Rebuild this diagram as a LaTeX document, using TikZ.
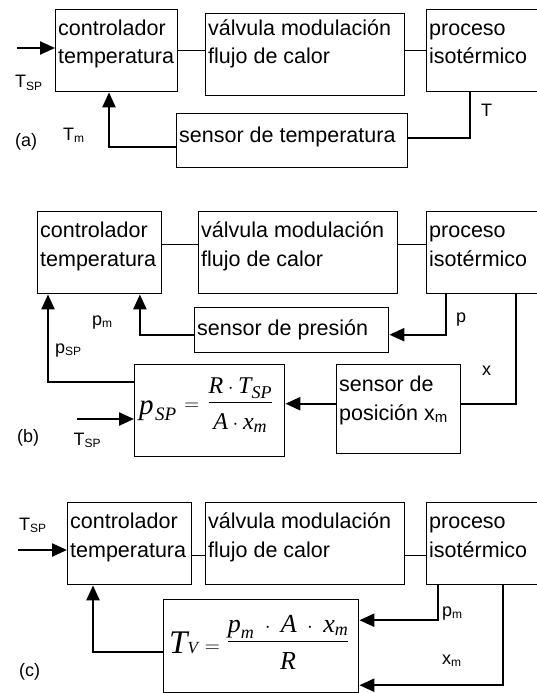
\documentclass[tikz,border=0pt]{standalone}
\usepackage{amsmath}
\usepackage{fontspec}
\setmainfont{Liberation Sans}
\newfontfamily\eqfont{Liberation Serif}
\usetikzlibrary{arrows.meta}
\newcommand{\eqv}[2][24]{\mbox{\fontsize{#1}{#1}\eqfont\itshape #2}}
\newcommand{\subi}[2][12]{\raisebox{-2pt}{\fontsize{#1}{#1}\selectfont #2}}
\newcommand{\dos}[2]{\begin{tabular}[t]{@{}l@{}}#1\\#2\end{tabular}}
\begin{document}
\begin{tikzpicture}[x=1pt,y=-1pt, every node/.style={font=\fontsize{18}{21}\selectfont},
  caja/.style={draw,line width=1.4pt,anchor=north west,inner sep=0pt},
  texto/.style={anchor=base west,inner sep=0pt,xshift=3pt,yshift=-26.6pt,
    font=\fontsize{21.5}{28.4}\selectfont},
  etiq/.style={anchor=base west,inner sep=0pt},
  formula/.style={anchor=base west,inner sep=0pt,font=\fontsize{22}{26}\selectfont},
  linea/.style={line width=1.4pt},
  retro/.style={line width=2.4pt},
  flecha/.style={line width=2.4pt,-{Triangle[length=15pt,width=13pt]}}]
\useasboundingbox (0,0) rectangle (536,693);
\node[caja,minimum width=122pt,minimum height=82pt] (ctrlA) at (55,9) {};
\node[caja,minimum width=199pt,minimum height=82pt] (valvA) at (205,13) {};
\node[caja,minimum width=120pt,minimum height=82pt] (procA) at (426,9) {};
\node[caja,minimum width=231pt,minimum height=54pt] (sensA) at (176,113) {};
\node[texto] (tctrlA) at (ctrlA.north west) {\dos{controlador}{temperatura}};
\node[texto,yshift=4pt] (tvalvA) at (valvA.north west) {\dos{válvula modulación}{flujo de calor}};
\node[texto] (tprocA) at (procA.north west) {\dos{proceso}{isotérmico}};
\node[texto,yshift=-3pt] (tsensA) at (sensA.north west) {sensor de temperatura};
\draw[linea] (ctrlA.east) -- (ctrlA.east -| valvA.west);
\draw[linea] (valvA.east |- procA.west) -- (procA.west);
\coordinate (inA) at (17,48);
\draw[flecha] (inA) -- (inA -| ctrlA.west);
\draw[retro] ([xshift=44pt]procA.south west) |- ([yshift=2.5pt]sensA.east);
\draw[flecha] ([yshift=-6pt]sensA.west) -| ([xshift=54pt]ctrlA.south west);
\node[etiq] (tspA) at (15,88) {T\subi{SP}};
\node[etiq] (tmA) at (63,140) {T\subi{m}};
\node[etiq] (labA) at (15,146) {(a)};
\node[etiq] (tA) at (481,116) {T};
\node[caja,minimum width=124pt,minimum height=82pt] (ctrlB) at (37,211) {};
\node[caja,minimum width=199pt,minimum height=82pt] (valvB) at (198,211) {};
\node[caja,minimum width=120pt,minimum height=82pt] (procB) at (426,211) {};
\node[caja,minimum width=194pt,minimum height=45pt] (sensP) at (194,307) {};
\node[caja,minimum width=150pt,minimum height=92pt] (formB) at (134,364) {};
\node[caja,minimum width=124pt,minimum height=89pt] (sensX) at (336,364) {};
\node[texto] (tctrlB) at (ctrlB.north west) {\dos{controlador}{temperatura}};
\node[texto] (tvalvB) at (valvB.north west) {\dos{válvula modulación}{flujo de calor}};
\node[texto] (tprocB) at (procB.north west) {\dos{proceso}{isotérmico}};
\node[texto,yshift=-2pt] (tsensP) at (sensP.north west) {sensor de presión};
\node[texto,yshift=-1pt] (tsensX) at (sensX.north west) {\dos{sensor de}{posición x\subi[15]{m}}};
\node[formula] (eqB) at ([xshift=5pt,yshift=-43.5pt]formB.north west)
  {$\raisebox{-6.5pt}{\eqv[29]{p}}\kern1.5pt\raisebox{-12.5pt}{\eqv[19]{SP}}
   \mkern7mu\raisebox{-2.5pt}{$=$}\mkern7mu
   \dfrac{\eqv{R}\cdot\eqv{T}_{\eqv[18]{SP}}}{\raisebox{-8pt}{$\eqv{A}\cdot\eqv{x}_{\eqv[18]{m}}$}}$};
\coordinate (lB) at ([yshift=8pt]ctrlB.east);
\draw[linea] (lB) -- (lB -| valvB.west);
\draw[linea] (lB -| valvB.east) -- (lB -| procB.west);
\draw[flecha] ([xshift=20pt]procB.south west) |- ([yshift=-4.5pt]sensP.east);
\draw[flecha] ([yshift=-4.5pt]sensP.west) -| ([xshift=-22.5pt]ctrlB.south east);
\draw[flecha] ([yshift=-18pt]formB.north west) -| ([xshift=11pt]ctrlB.south west);
\coordinate (inB) at (77,419);
\draw[flecha] (inB) -- (inB -| formB.west);
\draw[retro] ([xshift=90pt]procB.south west) |- ([yshift=5.5pt]sensX.east);
\coordinate (xB) at ([yshift=5.5pt]sensX.west);
\draw[flecha] (xB) -- (xB -| formB.east);
\node[etiq] (pB) at (456,322) {p};
\node[etiq] (pmB) at (92,325) {p\subi{m}};
\node[etiq] (pspB) at (55,353) {p\subi{SP}};
\node[etiq] (xlB) at (482,375) {x};
\node[etiq] (labB) at (17,442) {(b)};
\node[etiq] (tspB) at (73.5,445) {T\subi{SP}};
\node[caja,minimum width=124pt,minimum height=82pt] (ctrlC) at (67,502) {};
\node[caja,minimum width=199pt,minimum height=82pt] (valvC) at (205,502) {};
\node[caja,minimum width=120pt,minimum height=82pt] (procC) at (426,502) {};
\node[caja,minimum width=195pt,minimum height=93pt] (formC) at (163,599) {};
\node[texto] (tctrlC) at (ctrlC.north west) {\dos{controlador}{temperatura}};
\node[texto] (tvalvC) at (valvC.north west) {\dos{válvula modulación}{flujo de calor}};
\node[texto] (tprocC) at (procC.north west) {\dos{proceso}{isotérmico}};
\node[formula] (eqC) at ([xshift=6pt,yshift=-47.5pt]formC.north west)
  {$\raisebox{-6.5pt}{\eqv[33]{T}\eqv[17]{V}}
   \mkern6mu\raisebox{-5.5pt}{$=$}\mkern6mu
   \dfrac{\eqv[26]{p}_{\eqv[18]{m}}\;\cdot\;\eqv[26]{A}\;\cdot\;\eqv[26]{x}_{\eqv[18]{m}}}{\raisebox{-8.5pt}{\eqv[26]{R}}}$};
\coordinate (lC) at ([yshift=-12pt]ctrlC.east);
\draw[linea] (lC) -- (lC -| valvC.west);
\draw[linea] (lC -| valvC.east) -- (lC -| procC.west);
\coordinate (inC) at (18,550);
\draw[flecha] (inC) -- (inC -| ctrlC.west);
\draw[flecha] ([xshift=12pt]procC.south west) |- ([yshift=26pt]formC.east);
\draw[flecha] ([xshift=77pt]procC.south west) |- ([yshift=-39pt]formC.east);
\draw[flecha] ([yshift=-6pt]formC.west) -| ([xshift=26pt]ctrlC.south west);
\node[etiq] (tspC) at (19,530) {T\subi{SP}};
\node[etiq] (pmC) at (442,616) {p\subi{m}};
\node[etiq] (xmC) at (442,664) {x\subi{m}};
\node[etiq] (labC) at (19,676) {(c)};
\end{tikzpicture}
\end{document}
